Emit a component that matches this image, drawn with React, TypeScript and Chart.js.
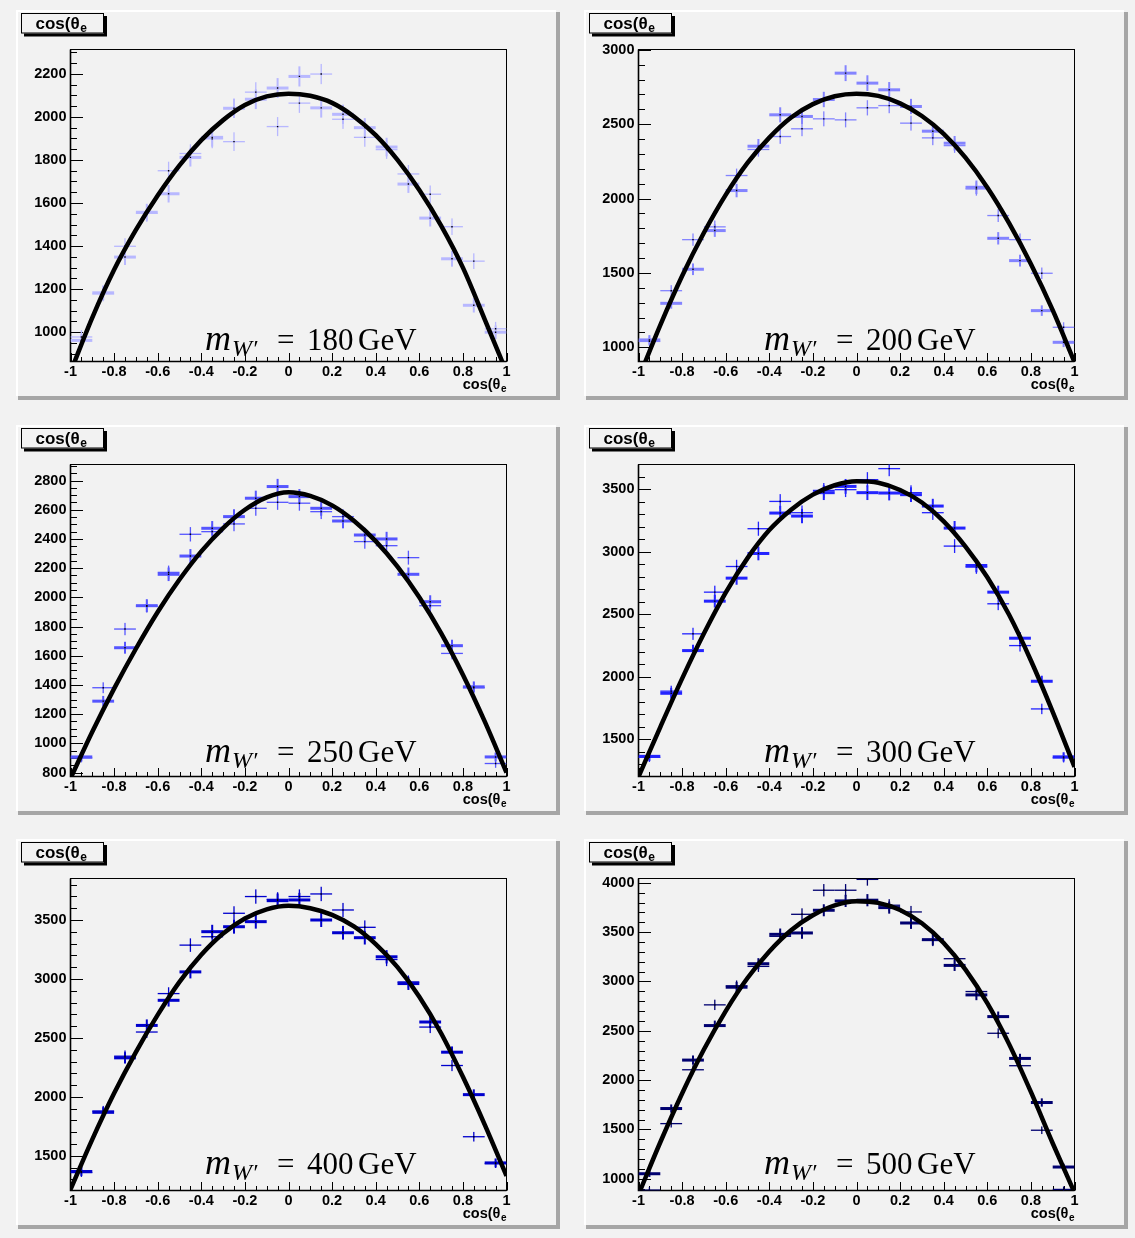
import React, { useEffect, useRef } from "react";
import { Chart, registerables } from "chart.js";

Chart.register(...registerables);

// ---- shared axis data -------------------------------------------------------
// 20 bins of width 0.1 in cos(theta_e)
const BIN_CENTERS = [-0.95, -0.85, -0.75, -0.65, -0.55, -0.45, -0.35, -0.25, -0.15, -0.05, 0.05, 0.15, 0.25, 0.35, 0.45, 0.55, 0.65, 0.75, 0.85, 0.95];
const BIN_WIDTH = 0.1;
const X_TICKS = [-1, -0.8, -0.6, -0.4, -0.2, 0, 0.2, 0.4, 0.6, 0.8, 1];
// abscissae at which the fitted curve is tabulated
const FIT_X = [-1, -0.9, -0.8, -0.7, -0.6, -0.5, -0.4, -0.3, -0.2, -0.1, 0, 0.1, 0.2, 0.3, 0.4, 0.5, 0.6, 0.7, 0.8, 0.9, 1];

// ---- m_W' = 180 GeV ---------------------------------------------------------
const THICK_180 = [962, 1183, 1349, 1557, 1643, 1812, 1905, 2040, 2082, 2134, 2188, 2042, 2012, 1950, 1860, 1688, 1530, 1341, 1125, 1000];
const THIN_180 = [978, 1178, 1399, 1552, 1750, 1830, 1898, 1885, 2115, 1955, 2064, 2199, 1989, 1905, 1848, 1735, 1641, 1490, 1330, 1016];
const FIT_180 = [815, 1068, 1290, 1475, 1635, 1775, 1892, 1985, 2055, 2095, 2108, 2098, 2065, 2002, 1915, 1800, 1660, 1495, 1300, 1060, 815];
const Y_TICKS_180 = [1000, 1200, 1400, 1600, 1800, 2000, 2200];

// ---- m_W' = 200 GeV ---------------------------------------------------------
const THICK_200 = [1050, 1296, 1525, 1785, 2054, 2352, 2563, 2552, 2666, 2843, 2776, 2731, 2619, 2453, 2372, 2076, 1733, 1583, 1247, 1034];
const THIN_200 = [1040, 1381, 1724, 1810, 2155, 2330, 2417, 2469, 2536, 2529, 2610, 2625, 2507, 2408, 2356, 2065, 1886, 1724, 1498, 1135];
const FIT_200 = [790, 1150, 1480, 1770, 2025, 2240, 2410, 2545, 2635, 2688, 2705, 2690, 2640, 2555, 2435, 2275, 2075, 1835, 1560, 1250, 900];
const Y_TICKS_200 = [1000, 1500, 2000, 2500, 3000];

// ---- m_W' = 250 GeV ---------------------------------------------------------
const THICK_250 = [907, 1289, 1655, 1943, 2158, 2283, 2473, 2553, 2679, 2759, 2690, 2610, 2523, 2427, 2400, 2158, 1970, 1669, 1387, 907];
const THIN_250 = [900, 1381, 1783, 1940, 2171, 2432, 2450, 2503, 2610, 2651, 2645, 2587, 2553, 2382, 2354, 2272, 1943, 1616, 1381, 862];
const FIT_250 = [760, 1080, 1375, 1648, 1900, 2122, 2315, 2475, 2600, 2685, 2720, 2695, 2630, 2525, 2385, 2210, 2000, 1755, 1470, 1150, 800];
const Y_TICKS_250 = [800, 1000, 1200, 1400, 1600, 1800, 2000, 2200, 2400, 2600, 2800];

// ---- m_W' = 300 GeV ---------------------------------------------------------
const THICK_300 = [1364, 1868, 2209, 2604, 2788, 2985, 3308, 3284, 3471, 3521, 3471, 3468, 3455, 3364, 3188, 2889, 2676, 2308, 1964, 1360];
const THIN_300 = [1356, 1885, 2343, 2676, 2881, 3183, 3401, 3311, 3489, 3495, 3575, 3663, 3471, 3311, 3044, 2876, 2583, 2249, 1743, 1352];
const FIT_300 = [1200, 1598, 1985, 2345, 2672, 2948, 3172, 3335, 3455, 3530, 3562, 3550, 3492, 3392, 3242, 3040, 2795, 2495, 2130, 1720, 1280];
const Y_TICKS_300 = [1500, 2000, 2500, 3000, 3500];

// ---- m_W' = 400 GeV ---------------------------------------------------------
const THICK_400 = [1367, 1869, 2331, 2606, 2819, 3060, 3401, 3443, 3486, 3664, 3670, 3500, 3392, 3350, 3188, 2961, 2635, 2379, 2019, 1440];
const THIN_400 = [1358, 1880, 2345, 2550, 2876, 3287, 3358, 3557, 3699, 3675, 3699, 3721, 3585, 3438, 3165, 2975, 2592, 2266, 1662, 1435];
const FIT_400 = [1215, 1640, 2030, 2380, 2695, 2975, 3205, 3385, 3512, 3590, 3620, 3600, 3543, 3445, 3295, 3100, 2850, 2540, 2170, 1765, 1330];
const Y_TICKS_400 = [1500, 2000, 2500, 3000, 3500];

// ---- m_W' = 500 GeV ---------------------------------------------------------
const THICK_500 = [1051, 1712, 2203, 2553, 2942, 3180, 3478, 3492, 3722, 3817, 3824, 3749, 3593, 3424, 3163, 2864, 2644, 2220, 1773, 1119];
const THIN_500 = [885, 1559, 2105, 2763, 2956, 3153, 3458, 3681, 3925, 3925, 4035, 3773, 3705, 3417, 3231, 2898, 2475, 2146, 1492, 892];
const FIT_500 = [840, 1370, 1865, 2310, 2700, 3035, 3305, 3520, 3672, 3772, 3814, 3797, 3725, 3590, 3390, 3120, 2780, 2365, 1880, 1360, 860];
const Y_TICKS_500 = [1000, 1500, 2000, 2500, 3000, 3500, 4000];

// ---- styling ---------------------------------------------------------------
const PAD_BG = "#f2f2f2";
const PAD_SHADOW = "#a6a6a6";
const CANVAS_W = 546;
const CANVAS_H = 391;
const SANS = "'Liberation Sans', Arial, Helvetica, sans-serif";
const SERIF = "'Liberation Serif', 'Times New Roman', 'DejaVu Serif', serif";
const TICK_FONT = { family: SANS, size: 14.5, weight: "bold" as const };

type PanelSpec = {
  mass: number;
  thick: number[];
  thin: number[];
  fit: number[];
  yTicks: number[];
  yMin: number;
  yMax: number;
  yMinor: number;
  color: string;
  left: number;
  top: number;
  labelX: number;
  labelBase: number;
};

const COL_LEFT = [16, 584];
const ROW_TOP = [10, 425, 839];

const PANELS: PanelSpec[] = [
  { mass: 180, thick: THICK_180, thin: THIN_180, fit: FIT_180, yTicks: Y_TICKS_180, yMin: 864, yMax: 2313, yMinor: 50, color: "rgb(184,184,255)", left: COL_LEFT[0], top: ROW_TOP[0], labelX: 189, labelBase: 340 },
  { mass: 200, thick: THICK_200, thin: THIN_200, fit: FIT_200, yTicks: Y_TICKS_200, yMin: 905, yMax: 3002, yMinor: 100, color: "rgb(132,132,255)", left: COL_LEFT[1], top: ROW_TOP[0], labelX: 180, labelBase: 340 },
  { mass: 250, thick: THICK_250, thin: THIN_250, fit: FIT_250, yTicks: Y_TICKS_250, yMin: 773, yMax: 2910, yMinor: 50, color: "rgb(86,86,255)", left: COL_LEFT[0], top: ROW_TOP[1], labelX: 189, labelBase: 337 },
  { mass: 300, thick: THICK_300, thin: THIN_300, fit: FIT_300, yTicks: Y_TICKS_300, yMin: 1203, yMax: 3696, yMinor: 100, color: "rgb(36,36,255)", left: COL_LEFT[1], top: ROW_TOP[1], labelX: 180, labelBase: 337 },
  { mass: 400, thick: THICK_400, thin: THIN_400, fit: FIT_400, yTicks: Y_TICKS_400, yMin: 1206, yMax: 3852, yMinor: 100, color: "rgb(0,0,205)", left: COL_LEFT[0], top: ROW_TOP[2], labelX: 189, labelBase: 335 },
  { mass: 500, thick: THICK_500, thin: THIN_500, fit: FIT_500, yTicks: Y_TICKS_500, yMin: 881, yMax: 4044, yMinor: 100, color: "rgb(0,0,112)", left: COL_LEFT[1], top: ROW_TOP[2], labelX: 180, labelBase: 335 },
];

// text with a subscript: main part then a smaller lowered part
function drawSubscripted(ctx: CanvasRenderingContext2D, main: string, sub: string, x: number, y: number, size: number, subSize: number, drop: number, align: "left" | "right") {
  ctx.font = `bold ${size}px ${SANS}`;
  const w1 = ctx.measureText(main).width;
  ctx.font = `bold ${subSize}px ${SANS}`;
  const w2 = ctx.measureText(sub).width;
  const x0 = align === "left" ? x : x - w1 - w2;
  ctx.textAlign = "left";
  ctx.textBaseline = "alphabetic";
  ctx.font = `bold ${size}px ${SANS}`;
  ctx.fillText(main, x0, y);
  ctx.font = `bold ${subSize}px ${SANS}`;
  ctx.fillText(sub, x0 + w1 + 0.5, y + drop);
}

function makeDecor(p: PanelSpec) {
  return {
    id: "padDecor",
    beforeDraw(chart: any) {
      const { ctx } = chart;
      ctx.save();
      ctx.fillStyle = PAD_BG;
      ctx.fillRect(0, 0, CANVAS_W, CANVAS_H);
      // bevelled pad border
      ctx.fillStyle = "#ffffff";
      ctx.fillRect(0, 0, 540, 2);
      ctx.fillRect(0, 0, 2, 386);
      ctx.fillStyle = PAD_SHADOW;
      ctx.fillRect(540, 2, 4, 388);
      ctx.fillRect(2, 386, 542, 4);
      ctx.restore();
    },
    beforeDatasetsDraw(chart: any) {
      const { ctx, chartArea: a, scales } = chart;
      const xs = scales.x;
      const ys = scales.y;
      ctx.save();
      // frame
      ctx.strokeStyle = "#000";
      ctx.lineWidth = 1;
      ctx.strokeRect(a.left, a.top, a.right - a.left, a.bottom - a.top);
      ctx.lineWidth = 1.6;
      ctx.beginPath();
      ctx.moveTo(a.left, a.top);
      ctx.lineTo(a.left, a.bottom);
      ctx.lineTo(a.right, a.bottom);
      ctx.stroke();
      // inward ticks
      ctx.lineWidth = 1;
      ctx.beginPath();
      for (let v = Math.ceil(p.yMin / p.yMinor) * p.yMinor; v <= p.yMax; v += p.yMinor) {
        const y = Math.round(ys.getPixelForValue(v)) + 0.5;
        const len = p.yTicks.includes(v) ? 12.5 : 6.5;
        ctx.moveTo(a.left, y);
        ctx.lineTo(a.left + len, y);
      }
      for (let k = -20; k <= 20; k++) {
        const v = k * 0.05;
        const x = Math.round(xs.getPixelForValue(v)) + 0.5;
        const len = k % 4 === 0 ? 8.5 : 4.5;
        ctx.moveTo(x, a.bottom);
        ctx.lineTo(x, a.bottom - len);
      }
      ctx.stroke();

      // error crosses of both histograms, drawn as filled bars
      ctx.beginPath();
      ctx.rect(a.left, a.top, a.right - a.left, a.bottom - a.top);
      ctx.clip();
      chart.data.datasets.forEach((ds: any) => {
        if (!ds.crossStyle) return;
        const thick = ds.crossStyle === "thick";
        const hBar = thick ? 3 : 1.3;
        const vBar = thick ? 2 : 1.3;
        ctx.fillStyle = p.color;
        ds.data.forEach((pt: { x: number; y: number }) => {
          const err = Math.sqrt(pt.y);
          const xl = xs.getPixelForValue(pt.x - BIN_WIDTH / 2);
          const xr = xs.getPixelForValue(pt.x + BIN_WIDTH / 2);
          const xc = xs.getPixelForValue(pt.x);
          const yc = ys.getPixelForValue(pt.y);
          const yt = ys.getPixelForValue(pt.y + err);
          const yb = ys.getPixelForValue(pt.y - err);
          ctx.fillRect(xl, yc - hBar / 2, xr - xl, hBar);
          ctx.fillRect(xc - vBar / 2, yt, vBar, yb - yt);
        });
      });
      ctx.restore();
    },
    afterDraw(chart: any) {
      const { ctx } = chart;
      ctx.save();
      // title box with shadow
      ctx.fillStyle = "#000";
      ctx.fillRect(8, 6, 83, 20.5);
      ctx.fillStyle = PAD_BG;
      ctx.fillRect(5, 3, 83, 20.5);
      ctx.strokeStyle = "#000";
      ctx.lineWidth = 1;
      ctx.strokeRect(5.5, 3.5, 82, 19.5);
      ctx.fillStyle = "#000";
      drawSubscripted(ctx, "cos(\u03b8", "e", 19.5, 18.5, 17, 12, 3.5, "left");

      // x-axis title
      drawSubscripted(ctx, "cos(\u03b8", "e", 490, 379, 14.5, 10, 3, "right");

      // mass label  m_{W'} = N GeV
      const x0 = p.labelX;
      const yb = p.labelBase;
      ctx.textAlign = "left";
      ctx.textBaseline = "alphabetic";
      ctx.font = `italic 36px ${SERIF}`;
      ctx.fillText("m", x0, yb);
      ctx.font = `italic 24px ${SERIF}`;
      ctx.fillText("W\u2032", x0 + 27, yb + 6);
      ctx.font = `31px ${SERIF}`;
      ctx.fillText("=", x0 + 72, yb);
      ctx.fillText(String(p.mass), x0 + 102, yb);
      ctx.fillText("GeV", x0 + 153, yb);
      ctx.restore();
    },
  };
}

function makeConfig(p: PanelSpec): any {
  const thickPts = BIN_CENTERS.map((x, i) => ({ x, y: p.thick[i] }));
  const thinPts = BIN_CENTERS.map((x, i) => ({ x, y: p.thin[i] }));
  const fitPts = FIT_X.map((x, i) => ({ x, y: p.fit[i] }));
  const markerStyle = {
    pointStyle: "rect",
    pointRadius: 1,
    pointBackgroundColor: "#000",
    pointBorderColor: "rgba(0,0,0,0)",
    pointBorderWidth: 0,
    borderColor: "rgba(0,0,0,0)",
    backgroundColor: "#000",
    showLine: false,
    clip: 0,
  };
  return {
    type: "scatter",
    data: {
      datasets: [
        {
          label: "fit",
          data: fitPts,
          showLine: true,
          borderColor: "#000",
          backgroundColor: "#000",
          borderWidth: 4.5,
          pointRadius: 0,
          cubicInterpolationMode: "monotone",
          clip: 0,
        },
        { label: "thick", crossStyle: "thick", data: thickPts, ...markerStyle },
        { label: "thin", crossStyle: "thin", data: thinPts, ...markerStyle },
      ],
    },
    options: {
      responsive: false,
      devicePixelRatio: 1,
      animation: false,
      events: [],
      layout: { padding: { left: 0, top: 39.5, right: 55.5, bottom: 0 } },
      plugins: { legend: { display: false }, tooltip: { enabled: false } },
      scales: {
        x: {
          type: "linear",
          min: -1,
          max: 1,
          afterBuildTicks: (s: any) => {
            s.ticks = X_TICKS.map((v) => ({ value: v }));
          },
          afterFit: (s: any) => {
            s.height = 39.5;
          },
          grid: { display: false, drawTicks: false, tickLength: 0 },
          border: { display: false },
          ticks: {
            autoSkip: false,
            maxRotation: 0,
            minRotation: 0,
            padding: 1.5,
            color: "#000",
            font: TICK_FONT,
            callback: (v: number) => String(v),
          },
        },
        y: {
          type: "linear",
          min: p.yMin,
          max: p.yMax,
          afterBuildTicks: (s: any) => {
            s.ticks = p.yTicks.map((v) => ({ value: v }));
          },
          afterFit: (s: any) => {
            s.width = 54.5;
          },
          grid: { display: false, drawTicks: false, tickLength: 0 },
          border: { display: false },
          ticks: {
            autoSkip: false,
            padding: 4,
            color: "#000",
            font: TICK_FONT,
            callback: (v: number) => String(v),
          },
        },
      },
    },
    plugins: [makeDecor(p)],
  };
}

function Panel({ spec }: { spec: PanelSpec }) {
  const ref = useRef<HTMLCanvasElement | null>(null);
  useEffect(() => {
    if (!ref.current) return;
    const chart = new Chart(ref.current, makeConfig(spec));
    return () => chart.destroy();
  }, [spec]);
  return (
    <canvas
      ref={ref}
      width={CANVAS_W}
      height={CANVAS_H}
      style={{ position: "absolute", left: spec.left, top: spec.top, width: CANVAS_W, height: CANVAS_H }}
    />
  );
}

export default function App() {
  return (
    <div
      style={{
        position: "absolute",
        left: 0,
        top: 0,
        width: 1135,
        height: 1238,
        background: PAD_BG,
        overflow: "hidden",
      }}
    >
      {PANELS.map((p) => (
        <Panel key={p.mass} spec={p} />
      ))}
    </div>
  );
}
